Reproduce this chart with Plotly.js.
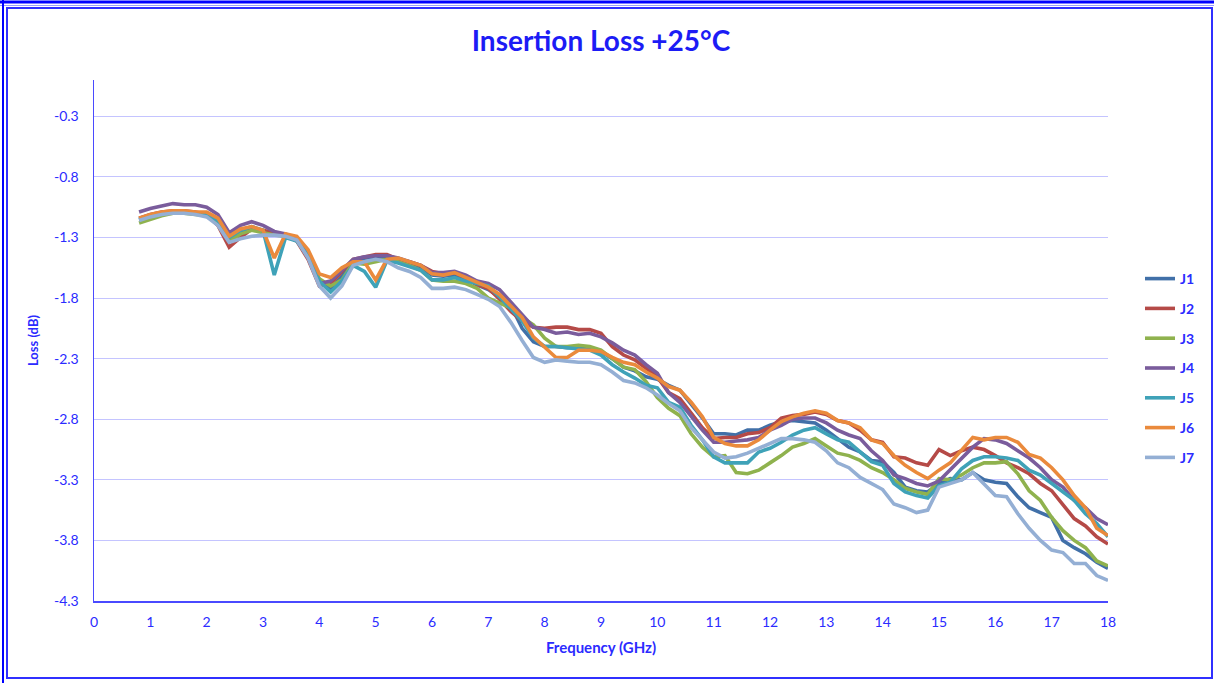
<!DOCTYPE html>
<html>
<head>
<meta charset="utf-8">
<script src="https://cdn.plot.ly/plotly-3.0.1.min.js"></script>
<style>
html,body{margin:0;padding:0;background:#fff;}
#chart{width:1214px;height:683px;}
</style>
</head>
<body>
<div id="chart"></div>
<script>
const freqGHz = [0.8,1.0,1.2,1.4,1.6,1.8,2.0,2.2,2.4,2.6,2.8,3.0,3.2,3.4,3.6,3.8,4.0,4.2,4.4,4.6,4.8,5.0,5.2,5.4,5.6,5.8,6.0,6.2,6.4,6.6,6.8,7.0,7.2,7.4,7.6,7.8,8.0,8.2,8.4,8.6,8.8,9.0,9.2,9.4,9.6,9.8,10.0,10.2,10.4,10.6,10.8,11.0,11.2,11.4,11.6,11.8,12.0,12.2,12.4,12.6,12.8,13.0,13.2,13.4,13.6,13.8,14.0,14.2,14.4,14.6,14.8,15.0,15.2,15.4,15.6,15.8,16.0,16.2,16.4,16.6,16.8,17.0,17.2,17.4,17.6,17.8,18.0];

const J1 = [-1.15,-1.12,-1.10,-1.09,-1.09,-1.10,-1.11,-1.17,-1.32,-1.25,-1.22,-1.25,
 -1.27,-1.29,-1.32,-1.45,-1.65,-1.72,-1.62,
 -1.50,-1.47,-1.46,-1.46,-1.49,-1.52,-1.55,
 -1.61,-1.62,-1.61,-1.64,-1.69,-1.73,-1.79,-1.86,-2.05,-2.16,
 -2.20,-2.20,-2.21,-2.21,-2.22,-2.24,-2.30,-2.37,-2.40,-2.45,
 -2.47,-2.52,-2.56,-2.67,-2.79,-2.92,-2.92,-2.93,-2.89,-2.89,
 -2.85,-2.82,-2.81,-2.82,-2.83,-2.89,-2.96,-3.03,-3.07,-3.14,
 -3.15,-3.24,-3.36,-3.39,-3.40,-3.33,-3.29,-3.30,-3.24,-3.30,
 -3.32,-3.33,-3.44,-3.53,-3.57,-3.61,-3.80,-3.86,-3.91,-3.98,-4.03];

const J2 = [-1.14,-1.11,-1.09,-1.08,-1.08,-1.09,-1.11,-1.20,-1.38,-1.30,-1.23,-1.24,
 -1.26,-1.28,-1.33,-1.48,-1.70,-1.68,-1.58,
 -1.48,-1.46,-1.44,-1.44,-1.48,-1.50,-1.53,
 -1.58,-1.60,-1.59,-1.63,-1.69,-1.72,-1.81,-1.91,-1.99,-2.04,
 -2.05,-2.04,-2.04,-2.06,-2.06,-2.09,-2.20,-2.27,-2.31,-2.38,
 -2.45,-2.58,-2.63,-2.75,-2.87,-2.96,-2.95,-2.95,-2.92,-2.91,
 -2.87,-2.79,-2.77,-2.76,-2.74,-2.76,-2.81,-2.83,-2.89,-2.97,
 -2.99,-3.11,-3.12,-3.16,-3.18,-3.05,-3.10,-3.06,-3.03,-3.05,
 -3.10,-3.16,-3.20,-3.25,-3.33,-3.39,-3.50,-3.62,-3.68,-3.77,-3.83];

const J3 = [-1.18,-1.15,-1.12,-1.10,-1.10,-1.11,-1.12,-1.18,-1.33,-1.27,-1.24,-1.26,
 -1.28,-1.29,-1.32,-1.44,-1.64,-1.70,-1.65,
 -1.51,-1.52,-1.50,-1.48,-1.50,-1.53,-1.57,
 -1.65,-1.66,-1.66,-1.68,-1.72,-1.80,-1.84,-1.88,-1.96,-2.02,
 -2.13,-2.20,-2.20,-2.19,-2.20,-2.23,-2.30,-2.37,-2.39,-2.49,
 -2.62,-2.71,-2.77,-2.92,-3.03,-3.11,-3.10,-3.24,-3.25,-3.22,
 -3.16,-3.10,-3.03,-3.00,-2.96,-3.02,-3.08,-3.10,-3.14,-3.20,
 -3.24,-3.30,-3.37,-3.40,-3.42,-3.29,-3.30,-3.26,-3.20,-3.16,
 -3.16,-3.15,-3.25,-3.39,-3.47,-3.61,-3.72,-3.80,-3.86,-3.97,-4.01];

const J4 = [-1.09,-1.06,-1.04,-1.02,-1.03,-1.03,-1.05,-1.11,-1.26,-1.20,-1.17,-1.20,
 -1.25,-1.27,-1.31,-1.46,-1.68,-1.66,-1.57,
 -1.48,-1.46,-1.45,-1.45,-1.47,-1.50,-1.53,
 -1.59,-1.59,-1.58,-1.61,-1.66,-1.68,-1.73,-1.83,-1.94,-2.04,
 -2.06,-2.09,-2.08,-2.10,-2.09,-2.12,-2.17,-2.23,-2.27,-2.35,
 -2.42,-2.58,-2.66,-2.78,-2.89,-2.99,-2.99,-2.98,-2.97,-2.95,
 -2.89,-2.85,-2.80,-2.79,-2.79,-2.83,-2.89,-2.93,-2.96,-3.06,
 -3.14,-3.26,-3.29,-3.33,-3.35,-3.31,-3.22,-3.12,-3.03,-2.96,
 -2.97,-3.00,-3.06,-3.12,-3.20,-3.30,-3.36,-3.47,-3.53,-3.62,-3.67];

const J5 = [-1.15,-1.12,-1.10,-1.09,-1.09,-1.10,-1.11,-1.16,-1.30,-1.24,-1.21,-1.24,
 -1.61,-1.30,-1.33,-1.45,-1.66,-1.75,-1.66,
 -1.53,-1.58,-1.71,-1.49,-1.51,-1.54,-1.57,
 -1.65,-1.65,-1.63,-1.66,-1.68,-1.70,-1.79,-1.89,-1.99,-2.13,
 -2.20,-2.20,-2.21,-2.22,-2.23,-2.27,-2.35,-2.41,-2.46,-2.52,
 -2.54,-2.66,-2.70,-2.85,-2.97,-3.11,-3.16,-3.16,-3.16,-3.07,
 -3.04,-2.99,-2.93,-2.89,-2.87,-2.92,-2.97,-2.99,-3.07,-3.15,
 -3.18,-3.33,-3.40,-3.43,-3.45,-3.35,-3.32,-3.21,-3.14,-3.11,
 -3.11,-3.12,-3.14,-3.22,-3.26,-3.33,-3.40,-3.47,-3.58,-3.66,-3.77];

const J6 = [-1.14,-1.11,-1.09,-1.08,-1.08,-1.09,-1.09,-1.14,-1.29,-1.23,-1.21,-1.24,
 -1.47,-1.27,-1.29,-1.40,-1.60,-1.63,-1.55,
 -1.50,-1.50,-1.65,-1.48,-1.47,-1.50,-1.53,
 -1.60,-1.61,-1.59,-1.63,-1.67,-1.71,-1.77,-1.86,-1.96,-2.12,
 -2.21,-2.29,-2.29,-2.23,-2.23,-2.24,-2.29,-2.33,-2.35,-2.41,
 -2.46,-2.53,-2.56,-2.66,-2.78,-2.95,-3.00,-3.02,-3.02,-2.97,
 -2.89,-2.82,-2.78,-2.75,-2.73,-2.75,-2.81,-2.83,-2.87,-2.97,
 -3.00,-3.10,-3.18,-3.24,-3.29,-3.22,-3.16,-3.06,-2.95,-2.97,
 -2.95,-2.95,-2.99,-3.09,-3.12,-3.20,-3.30,-3.43,-3.53,-3.70,-3.76];

const J7 = [-1.16,-1.13,-1.11,-1.10,-1.10,-1.11,-1.13,-1.20,-1.34,-1.31,-1.29,-1.28,
 -1.28,-1.29,-1.32,-1.47,-1.70,-1.80,-1.70,
 -1.53,-1.50,-1.48,-1.50,-1.55,-1.58,-1.63,
 -1.72,-1.72,-1.71,-1.73,-1.77,-1.81,-1.87,-2.00,-2.15,-2.29,
 -2.33,-2.31,-2.32,-2.33,-2.33,-2.35,-2.41,-2.48,-2.50,-2.54,
 -2.60,-2.67,-2.73,-2.87,-2.97,-3.07,-3.12,-3.11,-3.08,-3.04,
 -3.00,-2.96,-2.96,-2.97,-2.99,-3.06,-3.16,-3.20,-3.28,-3.33,
 -3.38,-3.50,-3.53,-3.57,-3.55,-3.36,-3.33,-3.30,-3.24,-3.33,
 -3.43,-3.44,-3.58,-3.70,-3.80,-3.88,-3.90,-3.99,-3.99,-4.09,-4.13];

const seriesNames = ['J1','J2','J3','J4','J5','J6','J7'];
const seriesValues = [J1,J2,J3,J4,J5,J6,J7];
const seriesColors = ['#4170a8','#b54a47','#8fb24e','#7a5c9c','#3fa2b8','#ea8a3c','#94afd4'];

const yTickVals = [-0.3,-0.8,-1.3,-1.8,-2.3,-2.8,-3.3,-3.8,-4.3];
const xTickVals = [0,1,2,3,4,5,6,7,8,9,10,11,12,13,14,15,16,17,18];

const blue = '#2b2bff';
const FONT = 'Lato, "Open Sans", sans-serif';

const traces = seriesNames.map((n,i)=>({
  type:'scatter', mode:'lines', name:n, x:freqGHz, y:seriesValues[i],
  line:{color:seriesColors[i], width:3.6},
  legendgroup:'g'+i
}));

// frame geometry in paper units (plot area: x 94..1108, y 80..601)
const px = v => (v-94)/1014;
const py = v => (601-v)/521;

const layout = {
  width:1214, height:683,
  margin:{l:94, r:106, t:80, b:82},
  paper_bgcolor:'#ffffff', plot_bgcolor:'#ffffff',
  font:{family:FONT, color:blue, size:12},
  title:{text:'<b>Insertion Loss +25°C</b>', x:0.5, xref:'paper', y:0.939, yref:'container', yanchor:'middle',
         font:{family:FONT, size:28, color:'#1c1cf5'}},
  xaxis:{range:[0,18], tickvals:xTickVals, showgrid:false, zeroline:false,
         showline:true, linecolor:'#4a4aff', linewidth:1.5, ticks:'', ticklabelstandoff:8,
         tickfont:{family:FONT, size:14, color:blue},
         title:{text:'<b>Frequency (GHz)</b>', standoff:13, font:{family:FONT, size:15, color:blue}}},
  yaxis:{range:[-4.3,0], tickvals:yTickVals, ticktext:yTickVals.map(v=>v.toFixed(1)),
         showgrid:true, gridcolor:'#c4c4ff', gridwidth:1, zeroline:false,
         showline:true, linecolor:'#4a4aff', linewidth:1.5, ticks:'', ticklabelstandoff:11,
         tickfont:{family:FONT, size:14, color:blue},
         title:{text:'<b>Loss (dB)</b>', standoff:12, font:{family:FONT, size:13, color:blue}}},
  showlegend:true,
  legend:{x:px(1140), xanchor:'left', y:py(263), yanchor:'top', traceorder:'grouped', tracegroupgap:8.6,
          font:{family:FONT, size:14, color:blue, weight:700}, bgcolor:'rgba(0,0,0,0)', itemwidth:30},
  shapes:[
    {type:'rect', xref:'paper', yref:'paper', x0:px(7), x1:px(1212), y0:py(678), y1:py(8),
     line:{color:'#3030ff', width:2}, layer:'below'},
    {type:'line', xref:'paper', yref:'paper', x0:px(0), x1:px(1214), y0:py(2), y1:py(2),
     line:{color:'#0000ff', width:3}},
    {type:'line', xref:'paper', yref:'paper', x0:px(0), x1:px(1214), y0:py(5.5), y1:py(5.5),
     line:{color:'#9a9aff', width:1}},
    {type:'line', xref:'paper', yref:'paper', x0:px(3), x1:px(3), y0:py(683), y1:py(0),
     line:{color:'#0000ff', width:2}}
  ]
};

Plotly.newPlot('chart', traces, layout, {displayModeBar:false, staticPlot:true});
</script>
</body>
</html>
